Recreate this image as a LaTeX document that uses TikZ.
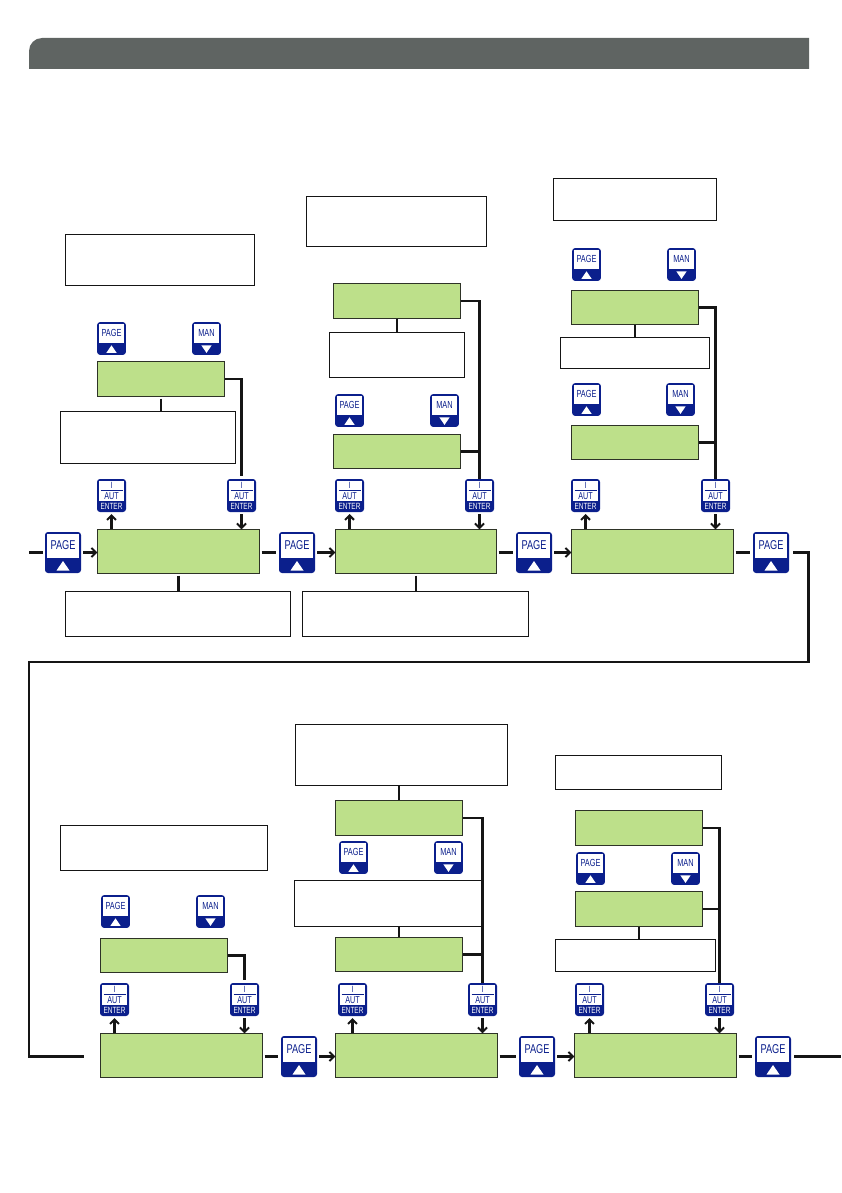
\documentclass[tikz,border=0pt]{standalone}
\usepackage{fontspec}
\setmainfont{Liberation Sans}
\usetikzlibrary{arrows.meta}
\definecolor{navy}{HTML}{0B1F8C}
\definecolor{lcd}{HTML}{BDE08A}
\definecolor{bar}{HTML}{5F6462}
\definecolor{ink}{HTML}{151515}
\tikzset{
  conn/.style={draw=ink,line width=2.2pt},
  arr/.style={conn,-{Straight Barb[length=4.5pt,width=9pt,line width=2pt]}},
  greenbox/.style={draw=ink!85!lcd,line width=1pt,fill=lcd,inner sep=0pt,outer sep=0pt},
  whitebox/.style={draw=ink,line width=1pt,fill=white,inner sep=0pt,outer sep=0pt},
  btnbody/.style={fill=navy,rounded corners=3pt,inner sep=0pt,outer sep=0pt},
  btntext/.style={inner sep=0pt,outer sep=0pt,xscale=.72},
}
% boxes: name, x1, y1, x2, y2
\newcommand{\gbox}[5]{\node[greenbox,minimum width={(#4-#2-.7)*1pt},minimum height={(#5-#3-.7)*1pt}] (#1) at ({(#2+#4)/2},{(#3+#5)/2}) {};}
\newcommand{\wbox}[5]{\node[whitebox,minimum width={(#4-#2-.7)*1pt},minimum height={(#5-#3-.7)*1pt}] (#1) at ({(#2+#4)/2},{(#3+#5)/2}) {};}
% buttons: name, centre x, centre y, scale
\newcommand{\pagebtn}[4]{%
  \pgfmathsetmacro{\fs}{12.8*#4}%
  \node[btnbody,minimum width={36*#4pt},minimum height={41*#4pt}] (#1) at (#2,#3) {};
  \fill[white,shift={(#2,#3)}] ({-16*#4},{-18.5*#4}) rectangle ({16*#4},{5*#4});
  \fill[white,shift={(#2,#3)}] (0,{8.5*#4}) -- ({6.5*#4},{18*#4}) -- ({-6.5*#4},{18*#4}) -- cycle;
  \node[btntext,text=navy,font=\fontsize{\fs}{\fs}\selectfont] (#1t) at (#2,{#3-7*#4}) {PAGE};
}
\newcommand{\manbtn}[4]{%
  \pgfmathsetmacro{\fs}{12.8*#4}%
  \node[btnbody,minimum width={36*#4pt},minimum height={41*#4pt}] (#1) at (#2,#3) {};
  \fill[white,shift={(#2,#3)}] ({-16*#4},{-18.5*#4}) rectangle ({16*#4},{5*#4});
  \fill[white,shift={(#2,#3)}] (0,{18*#4}) -- ({6.5*#4},{8.5*#4}) -- ({-6.5*#4},{8.5*#4}) -- cycle;
  \node[btntext,text=navy,font=\fontsize{\fs}{\fs}\selectfont] (#1t) at (#2,{#3-7*#4}) {MAN};
}
\newcommand{\autbtn}[3]{%
  \node[btnbody,minimum width=29pt,minimum height=33pt] (#1) at (#2,#3) {};
  \fill[white,shift={(#2,#3)}] (-12.5,-15) rectangle (12.5,5.5);
  \draw[navy,line width=.8pt,shift={(#2,#3)}] (-11,-5.5) -- (11,-5.5);
  \node[btntext,text=navy,font=\fontsize{9}{9}\selectfont] (#1i) at (#2,{#3-10.5}) {I};
  \node[btntext,text=navy,font=\fontsize{10}{10}\selectfont] (#1a) at (#2,{#3+.5}) {AUT};
  \node[btntext,text=white,font=\fontsize{9}{9}\selectfont] (#1e) at (#2,{#3+10.5}) {ENTER};
}
\begin{document}
\begin{tikzpicture}[x=1pt,y=-1pt]
\useasboundingbox (0,0) rectangle (841,1193);
\fill[bar] (29,69) [rounded corners=13pt] -- (29,38) [sharp corners] -- (809,38) -- (809,69) -- cycle;

% ===== Row 1: main displays =====
\gbox{A}{97}{529}{260}{574}
\gbox{B}{335}{529}{497}{574}
\gbox{C}{571}{529}{734}{574}
\pagebtn{p1}{63}{552.5}{1}
\pagebtn{p2}{297}{552.5}{1}
\pagebtn{p3}{534}{552.5}{1}
\pagebtn{p4}{771}{552.5}{1}
\wbox{wA}{65}{591}{291}{637}
\wbox{wB}{302}{591}{529}{637}
\autbtn{a1}{111.5}{495.5}
\autbtn{a2}{241.5}{495.5}
\autbtn{b1}{349.5}{495.5}
\autbtn{b2}{479.5}{495.5}
\autbtn{c1}{585.5}{495.5}
\autbtn{c2}{715.5}{495.5}

% Column 1
\wbox{w1}{65}{234}{255}{286}
\pagebtn{q1}{111.5}{338.5}{.8}
\manbtn{m1}{206.5}{338.5}{.8}
\gbox{g1}{97}{361}{225}{397}
\wbox{w2}{60}{411}{236}{464}
% Column 2
\wbox{w3}{306}{196}{487}{247}
\gbox{g2}{333}{283}{461}{319}
\wbox{w4}{329}{332}{465}{378}
\pagebtn{q2}{349.5}{410.5}{.8}
\manbtn{m2}{444.5}{410.5}{.8}
\gbox{g3}{333}{434}{461}{469}
% Column 3
\wbox{w5}{553}{178}{717}{221}
\pagebtn{q3}{586.5}{264.5}{.8}
\manbtn{m3}{681.5}{264.5}{.8}
\gbox{g4}{571}{290}{699}{325}
\wbox{w6}{560}{337}{710}{369}
\pagebtn{q4}{586.5}{399.5}{.8}
\manbtn{m4}{680.5}{399.5}{.8}
\gbox{g5}{571}{425}{699}{460}

% ===== Row 2: main displays =====
\gbox{D}{100}{1033}{263}{1078}
\gbox{E}{335}{1033}{498}{1078}
\gbox{F}{574}{1033}{737}{1078}
\pagebtn{p5}{299}{1056.5}{1}
\pagebtn{p6}{537}{1056.5}{1}
\pagebtn{p7}{773}{1056.5}{1}
\autbtn{d1}{114.5}{999.5}
\autbtn{d2}{244.5}{999.5}
\autbtn{e1}{352.5}{999.5}
\autbtn{e2}{482.5}{999.5}
\autbtn{f1}{589.5}{999.5}
\autbtn{f2}{719.5}{999.5}
% Column 4
\wbox{w7}{60}{825}{268}{871}
\pagebtn{q5}{115.5}{911.5}{.8}
\manbtn{m5}{210.5}{911.5}{.8}
\gbox{g6}{100}{938}{228}{973}
% Column 5
\wbox{w8}{295}{724}{508}{786}
\gbox{g7}{335}{800}{463}{836}
\pagebtn{q6}{353.5}{857.5}{.8}
\manbtn{m6}{448.5}{857.5}{.8}
\wbox{w9}{294}{880}{482}{927}
\gbox{g8}{335}{937}{463}{972}
% Column 6
\wbox{w10}{555}{755}{722}{790}
\gbox{g9}{575}{810}{703}{846}
\pagebtn{q7}{590.5}{868.5}{.8}
\manbtn{m7}{685.5}{868.5}{.8}
\gbox{g10}{575}{891}{703}{927}
\wbox{w11}{555}{939}{716}{972}

% ===== Connectors =====
\coordinate (in1) at (29,552.5);
\coordinate (r1) at (808.5,552.5);
\coordinate (r2) at (808.5,662);
\coordinate (l2) at (29,662);
\coordinate (l3) at (29,1056.5);
\coordinate (l4) at (84,1056.5);
\coordinate (out) at (841,1056.5);

\draw[conn,shorten >=2pt] (in1) -- (p1.west);
\draw[arr,shorten <=2pt] (p1.east) -- (A.west |- p1.east);
\draw[conn,shorten <=2pt,shorten >=3pt] (A.east |- p2.west) -- (p2.west);
\draw[arr,shorten <=2pt] (p2.east) -- (B.west |- p2.east);
\draw[conn,shorten <=2pt,shorten >=3pt] (B.east |- p3.west) -- (p3.west);
\draw[arr,shorten <=2pt] (p3.east) -- (C.west |- p3.east);
\draw[conn,shorten <=2pt,shorten >=3pt] (C.east |- p4.west) -- (p4.west);
\draw[conn,shorten <=4pt,line join=miter] (p4.east) -- (r1) -- (r2) -- (l2) -- (l3) -- (l4);

\draw[conn,shorten <=2pt,shorten >=3pt] (D.east |- p5.west) -- (p5.west);
\draw[arr,shorten <=2pt] (p5.east) -- (E.west |- p5.east);
\draw[conn,shorten <=2pt,shorten >=3pt] (E.east |- p6.west) -- (p6.west);
\draw[arr,shorten <=2pt] (p6.east) -- (F.west |- p6.east);
\draw[conn,shorten <=2pt,shorten >=3pt] (F.east |- p7.west) -- (p7.west);
\draw[conn,shorten <=3pt] (p7.east) -- (out);

% AUT/ENTER arrows
\foreach \g/\u/\d in {A/a1/a2,B/b1/b2,C/c1/c2,D/d1/d2,E/e1/e2,F/f1/f2}{
  \draw[arr] (\g.north -| \u) -- ([yshift=-2pt]\u.south);
  \draw[arr,shorten <=2pt] (\d.south) -- (\g.north -| \d);
}

% Loops back to AUT/ENTER
\draw[conn,shorten >=3pt] (g1.east) -| (a2.north);
\draw[conn,shorten >=3pt] (g2.east) -| (b2.north);
\draw[conn] (g3.east) -| (b2.north);
\draw[conn,shorten >=3pt] (g4.east) -| (c2.north);
\draw[conn] (g5.east) -| (c2.north);
\draw[conn,shorten >=3pt] (g6.east) -| (d2.north);
\draw[conn,shorten >=3pt] (g7.east) -| (e2.north);
\draw[conn] (g8.east) -| (e2.north);
\draw[conn,shorten >=3pt] (g9.east) -| (f2.north);
\draw[conn] (g10.east) -| (f2.north);

% Stems to explanation boxes
\draw[conn,shorten <=2pt] (A.south) -- (A.south |- wA.north);
\draw[conn,shorten <=2pt] (B.south) -- (B.south |- wB.north);
\draw[conn,shorten <=2pt] (g1.south) -- (g1.south |- w2.north);
\draw[conn] (g2.south) -- (g2.south |- w4.north);
\draw[conn] (g4.south) -- (g4.south |- w6.north);
\draw[conn] (g7.north) -- (g7.north |- w8.south);
\draw[conn] (g8.north) -- (g8.north |- w9.south);
\draw[conn] (g10.south) -- (g10.south |- w11.north);
\end{tikzpicture}
\end{document}
